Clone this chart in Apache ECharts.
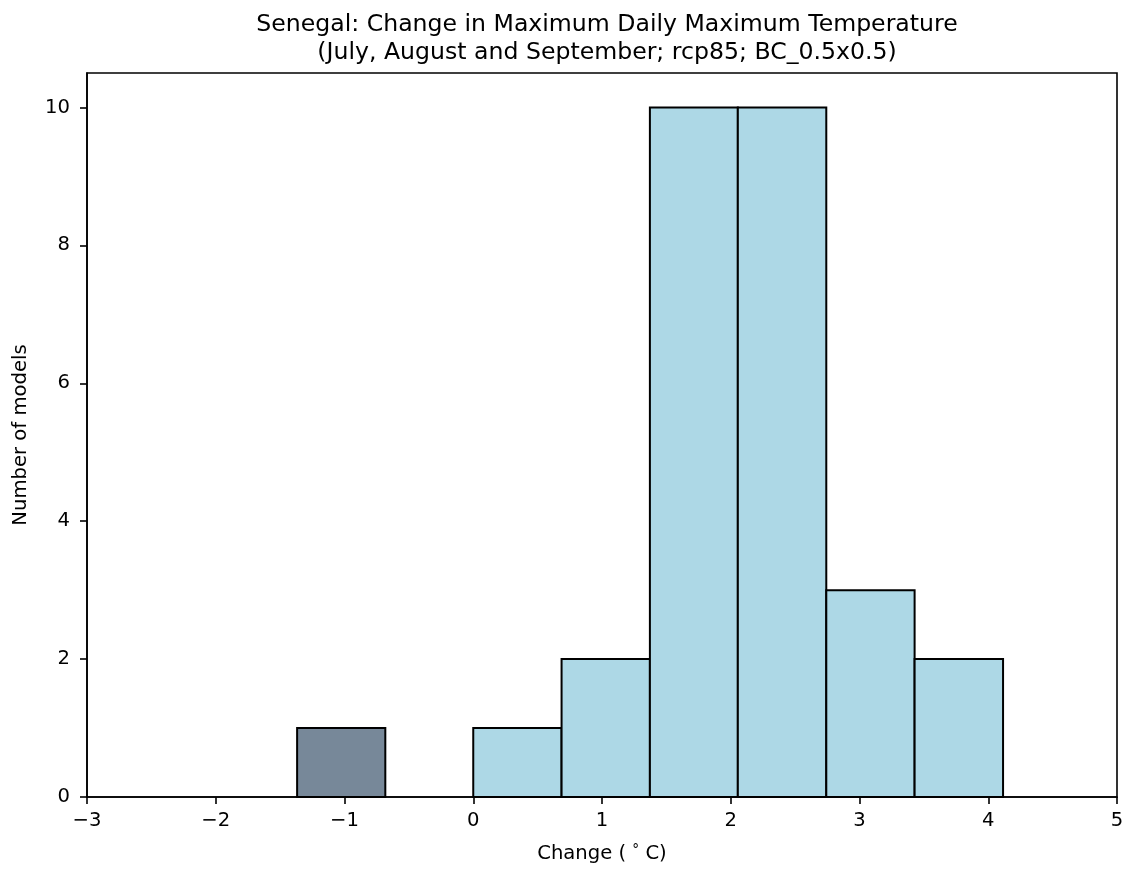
<!DOCTYPE html>
<html>
<head>
<meta charset="utf-8">
<script src="https://cdn.jsdelivr.net/npm/echarts@6/dist/echarts.min.js"></script>
<style>
html,body{margin:0;padding:0;background:#fff;}
#chart{width:1127px;height:869px;}
</style>
</head>
<body>
<div id="chart"></div>
<script>
// Data
const titleLines = ['Senegal: Change in Maximum Daily Maximum Temperature', '(July, August and September; rcp85; BC_0.5x0.5)'];
const xTicks = [-3, -2, -1, 0, 1, 2, 3, 4, 5];
const yTicks = [0, 2, 4, 6, 8, 10];
// histogram bins (edges in °C) and counts
const darkEdges = [-1.368, -0.683];
const darkCounts = [1];
const lightEdges = [0, 0.686, 1.372, 2.055, 2.742, 3.428, 4.115];
const lightCounts = [1, 2, 10, 10, 3, 2];

function toBins(edges, counts) {
  const out = [];
  for (let i = 0; i < counts.length; i++) out.push([edges[i], edges[i + 1], counts[i]]);
  return out;
}

const FONT = 'DejaVu Sans';
function renderBar(params, api) {
  const p0 = api.coord([api.value(0), api.value(2)]);
  const p1 = api.coord([api.value(1), 0]);
  return {
    type: 'rect',
    shape: { x: p0[0], y: p0[1], width: p1[0] - p0[0], height: p1[1] - p0[1] },
    style: api.style()
  };
}

const chart = echarts.init(document.getElementById('chart'), null, { renderer: 'canvas' });
chart.setOption({
  animation: false,
  backgroundColor: '#fff',
  title: {
    text: titleLines.join('\n'),
    left: 602,
    textAlign: 'center',
    top: 6,
    textStyle: { fontFamily: FONT, fontSize: 23.6, fontWeight: 'normal', color: '#000', lineHeight: 28 }
  },
  grid: { left: 87, right: 10, top: 73, bottom: 72, show: true, borderColor: '#000', borderWidth: 1.6, backgroundColor: 'transparent' },
  xAxis: {
    type: 'value', min: -3, max: 5, interval: 1,
    splitLine: { show: false },
    axisLine: { show: true, onZero: false, lineStyle: { color: '#000', width: 1.6 } },
    axisTick: { show: true, inside: false, length: 7, lineStyle: { color: '#000', width: 1.6 }, customValues: xTicks },
    axisLabel: { customValues: xTicks, margin: 14, fontFamily: FONT, fontSize: 19.6, color: '#000',
      formatter: v => String(v).replace('-', '\u2212') },
    name: 'Change ( {d|°} C)',
    nameLocation: 'middle',
    nameGap: 46,
    nameTextStyle: { fontFamily: FONT, fontSize: 19.6, color: '#000',
      rich: { d: { fontFamily: FONT, fontSize: 13.7, color: '#000', verticalAlign: 'top', padding: [0, 0, 8, 0] } } }
  },
  yAxis: {
    type: 'value', min: 0, max: 10.5,
    splitLine: { show: false },
    axisLine: { show: true, onZero: false, lineStyle: { color: '#000', width: 1.6 } },
    axisTick: { show: true, inside: false, length: 7, lineStyle: { color: '#000', width: 1.6 }, customValues: yTicks },
    axisLabel: { customValues: yTicks, margin: 17, fontFamily: FONT, fontSize: 19.6, color: '#000' },
    name: 'Number of models',
    nameLocation: 'middle',
    nameGap: 56,
    nameTextStyle: { fontFamily: FONT, fontSize: 19.6, color: '#000' }
  },
  series: [
    {
      type: 'custom', name: 'negative',
      renderItem: renderBar,
      encode: { x: [0, 1], y: 2 },
      itemStyle: { color: '#778899', borderColor: '#000', borderWidth: 2 },
      data: toBins(darkEdges, darkCounts)
    },
    {
      type: 'custom', name: 'positive',
      renderItem: renderBar,
      encode: { x: [0, 1], y: 2 },
      itemStyle: { color: '#add8e6', borderColor: '#000', borderWidth: 2 },
      data: toBins(lightEdges, lightCounts)
    }
  ]
});
</script>
</body>
</html>
